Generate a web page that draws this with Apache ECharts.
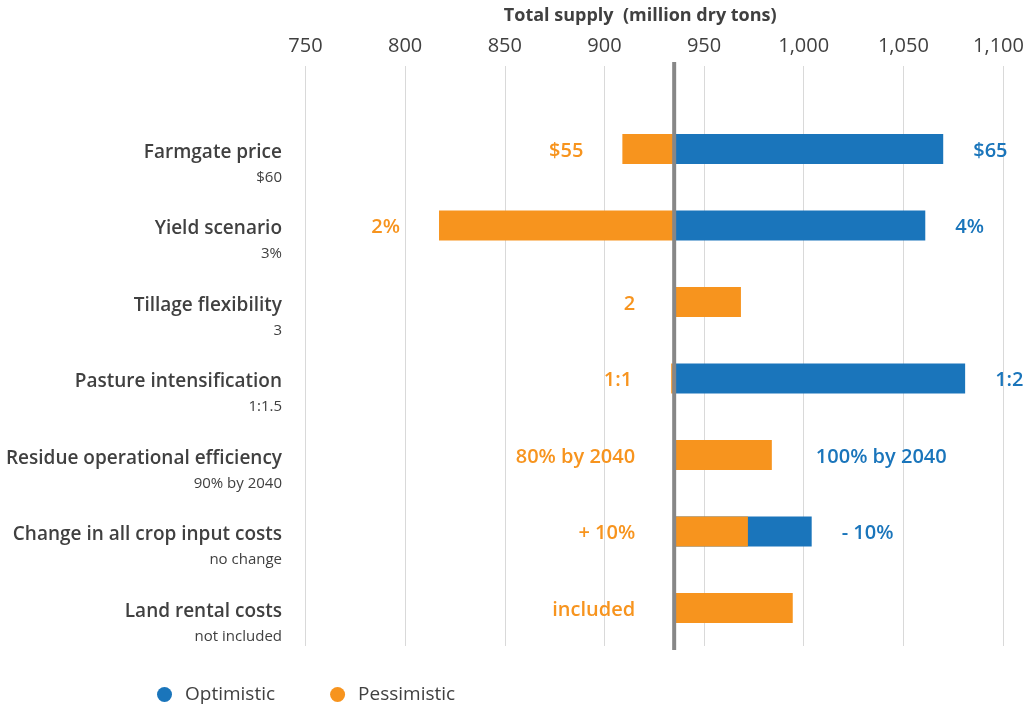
<!DOCTYPE html>
<html>
<head>
<meta charset="utf-8">
<title>Total supply sensitivity</title>
<script src="https://cdn.jsdelivr.net/npm/echarts@6/dist/echarts.min.js"></script>
<style>
  html, body { margin: 0; padding: 0; background: #ffffff; }
  #chart { width: 1026px; height: 707px; }
</style>
</head>
<body>
<div id="chart"></div>
<script>
// Sensitivity of total biomass supply (million dry tons) to each assumption
const categories = [
  'Farmgate price',
  'Yield scenario',
  'Tillage flexibility',
  'Pasture intensification',
  'Residue operational efficiency',
  'Change in all crop input costs',
  'Land rental costs'
];
const baseCaseSettings = ['$60', '3%', '3', '1:1.5', '90% by 2040', 'no change', 'not included'];

// Base-case total supply, where every bar starts
const baseSupply = 935;

// Supply under the optimistic / pessimistic setting (null = no optimistic run shown)
const optimisticValues  = [1070, 1061, null, 1081, null, 1004, null];
const pessimisticValues = [909, 817, 968.5, 933.5, 984, 972, 994.5];

const optimisticLabels  = ['$65', '4%', '', '1:2', '100% by 2040', '- 10%', ''];
const pessimisticLabels = ['$55', '2%', '2', '1:1', '80% by 2040', '+ 10%', 'included'];

const xTicks = [750, 800, 850, 900, 950, 1000, 1050, 1100];

const BLUE = '#1a75bb';
const ORANGE = '#f7941e';
const TEXT = '#404040';
const FONT = '"Open Sans", "Noto Sans", sans-serif';
const BAR_RATIO = 0.392;

const rows = categories.map((c, i) => [
  i,
  optimisticValues[i] == null ? baseSupply : optimisticValues[i],
  pessimisticValues[i]
]);

function renderOptimistic(params, api) {
  const i = api.value(0);
  const v = api.value(1);
  const p = api.value(2);
  const base = api.coord([baseSupply, i]);
  const end = api.coord([v, i]);
  const h = api.size([0, 1])[1] * BAR_RATIO;
  const children = [];
  if (Math.abs(end[0] - base[0]) > 0.01) {
    children.push({
      type: 'rect',
      shape: { x: Math.min(base[0], end[0]), y: base[1] - h / 2, width: Math.abs(end[0] - base[0]), height: h },
      style: { fill: BLUE }
    });
  }
  const label = optimisticLabels[i];
  if (label) {
    const pessEnd = api.coord([p, i])[0];
    const lx = Math.max(end[0] + 30, pessEnd + 44);
    children.push({
      type: 'text',
      style: {
        text: label, x: lx, y: base[1] + 2, align: 'left', verticalAlign: 'middle',
        fill: BLUE, fontSize: 20, fontWeight: 600, fontFamily: FONT
      }
    });
  }
  return { type: 'group', children };
}

function renderPessimistic(params, api) {
  const i = api.value(0);
  const p = api.value(2);
  const base = api.coord([baseSupply, i]);
  const end = api.coord([p, i]);
  const h = api.size([0, 1])[1] * BAR_RATIO;
  const left = Math.min(base[0], end[0]);
  const children = [{
    type: 'rect',
    shape: { x: left, y: base[1] - h / 2, width: Math.abs(end[0] - base[0]), height: h },
    style: { fill: ORANGE }
  }];
  const label = pessimisticLabels[i];
  if (label) {
    children.push({
      type: 'text',
      style: {
        text: label, x: left - 39, y: base[1] + 2, align: 'right', verticalAlign: 'middle',
        fill: ORANGE, fontSize: 20, fontWeight: 600, fontFamily: FONT
      }
    });
  }
  return { type: 'group', children };
}

function renderBaseline(params, api) {
  const x = api.coord([api.value(0), 0])[0];
  const cs = params.coordSys;
  return {
    type: 'line',
    shape: { x1: x, y1: cs.y - 4, x2: x, y2: cs.y + cs.height + 4 },
    style: { stroke: '#878787', lineWidth: 4 }
  };
}

const maxTick = xTicks[xTicks.length - 1];

const chart = echarts.init(document.getElementById('chart'), null, { renderer: 'canvas' });

chart.setOption({
  animation: false,
  textStyle: { fontFamily: FONT },
  grid: [
    { left: 305.5, right: 23, top: 66, bottom: 61, outerBoundsMode: 'none', containLabel: false },
    { left: 305.5, right: 23, top: 110.75, bottom: 60.75, outerBoundsMode: 'none', containLabel: false }
  ],
  xAxis: [
    {
      gridIndex: 0,
      type: 'value',
      position: 'top',
      min: xTicks[0],
      max: maxTick,
      interval: xTicks[1] - xTicks[0],
      name: 'Total supply  (million dry tons)',
      nameLocation: 'middle',
      nameGap: 41,
      nameTextStyle: {
        fontSize: 18, fontWeight: 'bold', color: TEXT, fontFamily: FONT,
        padding: [0, 28, 0, 0]
      },
      axisLine: { show: false },
      axisTick: { show: false },
      axisLabel: {
        margin: 10,
        fontSize: 20,
        color: TEXT,
        fontFamily: FONT,
        // the last label is nudged left so it stays inside the canvas
        formatter: v => v === maxTick
          ? '{edge|' + v.toLocaleString('en-US') + '}'
          : v.toLocaleString('en-US'),
        rich: {
          edge: { fontSize: 20, color: TEXT, fontFamily: FONT, padding: [0, 9, 0, 0] }
        }
      },
      splitLine: { show: true, lineStyle: { color: '#d9d9d9', width: 1 } }
    },
    {
      gridIndex: 1,
      type: 'value',
      min: xTicks[0],
      max: maxTick,
      show: false
    }
  ],
  yAxis: [
    { gridIndex: 0, type: 'value', show: false, min: 0, max: 1 },
    {
      gridIndex: 1,
      type: 'category',
      inverse: true,
      data: categories,
      axisLine: { show: false },
      axisTick: { show: false },
      splitLine: { show: false },
      axisLabel: {
        margin: 23.5,
        padding: [32, 0, 0, 0],
        formatter: (v, i) => '{n|' + v + '}\n{s|' + baseCaseSettings[i] + '}',
        rich: {
          n: { fontSize: 19, fontWeight: 600, color: TEXT, lineHeight: 25, fontFamily: FONT, align: 'right' },
          s: { fontSize: 15, fontWeight: 400, color: TEXT, lineHeight: 25, fontFamily: FONT, align: 'right' }
        }
      }
    }
  ],
  legend: {
    data: [
      { name: 'Optimistic', icon: 'circle' },
      { name: 'Pessimistic', icon: 'circle' }
    ],
    left: 157,
    top: 685,
    padding: 0,
    itemWidth: 15,
    itemHeight: 15,
    itemGap: 55,
    selectedMode: false,
    textStyle: { fontSize: 19, color: TEXT, fontFamily: FONT, padding: [0, 0, 0, 8] }
  },
  series: [
    {
      name: 'Optimistic',
      type: 'custom',
      xAxisIndex: 1,
      yAxisIndex: 1,
      itemStyle: { color: BLUE },
      renderItem: renderOptimistic,
      data: rows,
      z: 2
    },
    {
      name: 'Pessimistic',
      type: 'custom',
      xAxisIndex: 1,
      yAxisIndex: 1,
      itemStyle: { color: ORANGE },
      renderItem: renderPessimistic,
      data: rows,
      z: 3
    },
    {
      name: 'Base case',
      type: 'custom',
      xAxisIndex: 0,
      yAxisIndex: 0,
      renderItem: renderBaseline,
      data: [[baseSupply, 0]],
      silent: true,
      z: 5
    }
  ]
});
</script>
</body>
</html>
